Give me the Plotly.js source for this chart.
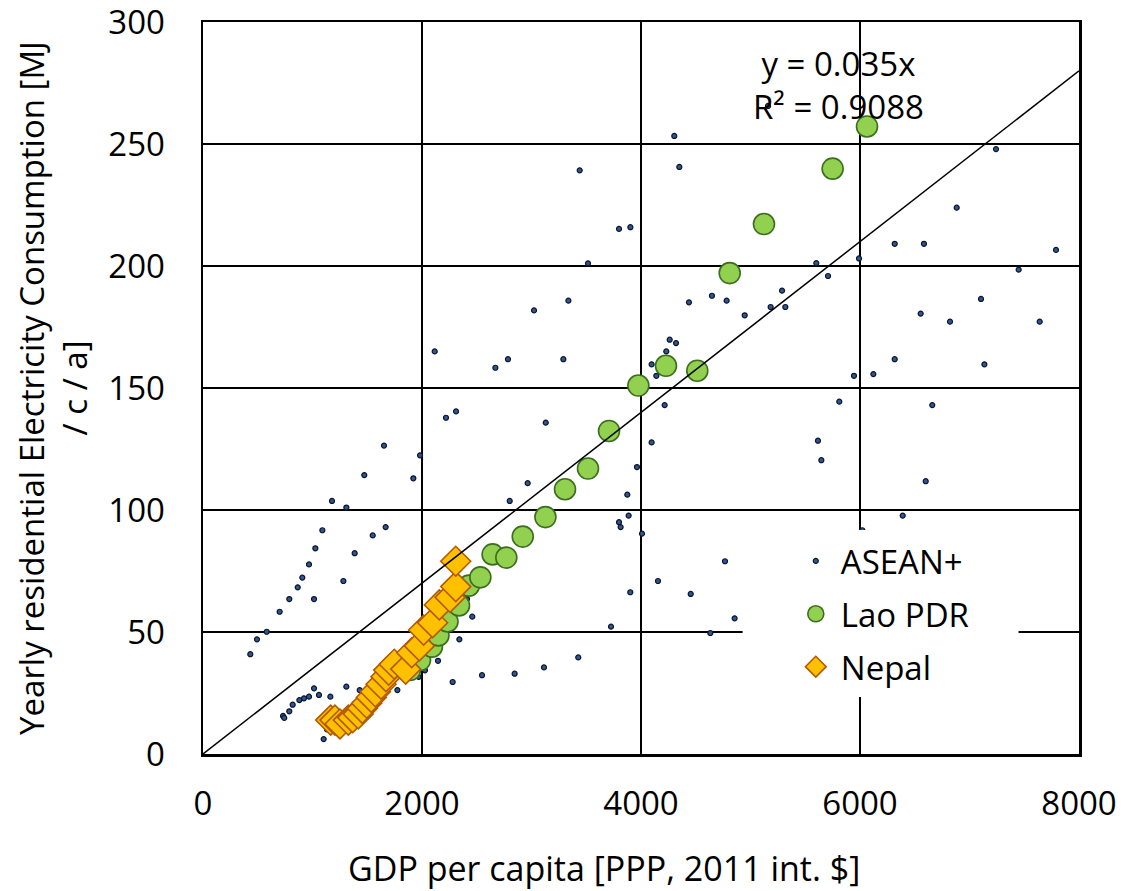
<!DOCTYPE html>
<html>
<head>
<meta charset="utf-8">
<script src="https://cdn.plot.ly/plotly-3.0.1.min.js"></script>
<style>html,body{margin:0;padding:0;background:#fff}#chart{width:1130px;height:891px}</style>
</head>
<body>
<div id="chart"></div>
<script>
// ASEAN+ country-year points [GDP per capita, MJ/c/a]
const aseanX = [2219,2311,1653,1982,1473,1921,1178,1309,1090,1668,1550,1026,1385,968,907,1282,865,788,1014,700,582,493,432,1014,1309,1431,1059,1163,968,922,880,819,788,731,742,1132,1102,1775,1970,2027,2146,2280,2548,2341,2459,2411,
  3130,2965,2801,4216,4097,3963,3875,3887,3799,3814,4009,4155,3902,4454,3726,3427,3114,2846,
  5811,6660,5616,5647,6600,6390,6021,4767,4855,4633,
  4304,4350,3440,3799,3903,3516,3023,3337,2785,3291,4438,4648,4782,4947,5184,5318,5288,4262,4320,4231,4097,4140,
  5601,5708,5991,6317,6584,6883,7242,7790,7449,7105,6554,6822,7641,6317,7136,6122,5945,
  2116,2670,5160];
const aseanY = [137.8,140.4,126.4,122.4,114.3,113,103.7,101,91.7,93,89.6,84.3,82.3,77.7,72.3,70.9,68.3,63.5,63.5,58.3,50.1,47,40.9,26.9,27.6,26.2,24.2,23.5,23.5,22.8,22.1,20.2,17.5,15.6,14.8,10.1,6.1,26.2,31.6,34.3,38.2,29.5,32.3,47,56.3,63.5,
  135.8,111,103.7,143,127.7,117.6,106.3,97.7,95,93,90.3,70.9,66.3,65.6,52.2,39.6,35.5,32.9,
  144.4,143,128.4,120.4,111.8,97.7,91.7,79,55.6,49.6,
  253.3,240.6,239.2,215.2,215.9,201.1,181.8,185.8,161.8,161.8,185.1,187.8,185.8,179.8,183.2,183.2,189.9,169.8,168.4,165,159.7,155,
  201.2,195.9,203.1,209.1,209.1,223.9,247.9,206.6,198.5,186.5,180.5,177.2,177.2,161.8,159.7,155.7,155,
  165,158.3,265.6];

// Lao PDR
const laoX = [1890,1982,2091,2150,2233,2338,2428,2533,2645,2770,2920,3127,3306,3516,3708,3976,4228,4514,4810,5123,5750,6064];
const laoY = [34.4,38.5,44,48.6,54.3,60.9,69,72.4,81.8,80.5,89.1,97.1,108.5,117,132.4,151,159.1,157.1,197.1,217.2,239.9,257.2];

// Nepal
const nepalX = [1166,1205,1251,1327,1367,1418,1455,1495,1537,1574,1626,1671,1696,1747,1851,1906,1976,2015,2097,2158,2256,2308,2308];
const nepalY = [13.9,13.9,12.3,13.9,14.9,16.4,18.7,20.8,23.2,25.5,28.6,31.7,34.4,36.8,34.8,41.5,44.3,50.8,53.8,61.1,64.2,68.6,79];

// Linear trendline through origin
const trendSlope = 0.035;
const trendR2 = 0.9088;
const xRange = [0, 8000];
const yRange = [0, 300];
const xTicks = [0, 2000, 4000, 6000, 8000];
const yTicks = [0, 50, 100, 150, 200, 250, 300];
const xTitle = 'GDP per capita [PPP, 2011 int. $]';
const yTitle = 'Yearly residential Electricity Consumption [MJ<br>/ c / a]';

const FONT = '"Open Sans", "Liberation Sans", sans-serif';
const FS = 33;

const traces = [
  {x: aseanX, y: aseanY, type: 'scatter', mode: 'markers', name: 'ASEAN+', legendgroup: 'a',
   marker: {symbol: 'circle', size: 5, color: '#2f5597', line: {color: '#0b1626', width: 1.2}}},
  {x: laoX, y: laoY, type: 'scatter', mode: 'markers', name: 'Lao PDR', legendgroup: 'b',
   marker: {symbol: 'circle', size: 21, color: '#92d050', line: {color: '#3c6e1e', width: 1.6}}},
  {x: nepalX, y: nepalY, type: 'scatter', mode: 'markers', name: 'Nepal', legendgroup: 'c',
   marker: {symbol: 'diamond', size: 23, color: '#ffc000', line: {color: '#b35a00', width: 1.6}}},
  {x: xRange, y: xRange.map(v => trendSlope * v), type: 'scatter', mode: 'lines',
   showlegend: false, hoverinfo: 'skip', line: {color: '#000', width: 1.5}}
];

const layout = {
  width: 1130, height: 891,
  margin: {l: 203, r: 51, t: 22, b: 137},
  paper_bgcolor: '#fff', plot_bgcolor: '#fff',
  font: {family: FONT, size: FS, color: '#000'},
  showlegend: true,
  xaxis: {
    range: xRange, tickmode: 'array', tickvals: xTicks,
    showgrid: true, gridcolor: '#000', gridwidth: 1.5,
    zeroline: false, showline: true, linecolor: '#000', linewidth: 2.5, mirror: true,
    ticks: '', ticklabelstandoff: 19, ticklabeloverflow: 'allow',
    tickfont: {family: FONT, size: FS, color: '#000'}
  },
  yaxis: {
    range: yRange, tickmode: 'array', tickvals: yTicks,
    showgrid: true, gridcolor: '#000', gridwidth: 1.5,
    zeroline: false, showline: true, linecolor: '#000', linewidth: 2.5, mirror: true,
    ticks: '', ticklabelstandoff: 29, ticklabeloverflow: 'allow',
    tickfont: {family: FONT, size: FS, color: '#000'},
    title: {text: yTitle, font: {family: FONT, size: FS, color: '#000'}, standoff: 11}
  },
  legend: {
    x: 0.671, xanchor: 'left', y: 0.302, yanchor: 'top',
    bgcolor: 'rgba(0,0,0,0)', borderwidth: 0,
    font: {family: FONT, size: FS, color: '#000'},
    itemwidth: 40, tracegroupgap: 7,
    traceorder: 'grouped'
  },
  shapes: [{
    type: 'rect', xref: 'paper', yref: 'paper', layer: 'above',
    x0: 0.616, x1: 0.931, y0: 0.078, y1: 0.306,
    fillcolor: '#fff', line: {width: 0}
  }],
  annotations: [{
    x: 5800, y: 274, xref: 'x', yref: 'y', xanchor: 'center', yanchor: 'middle',
    text: 'y = ' + trendSlope + 'x<br>R² = ' + trendR2, showarrow: false,
    font: {family: FONT, size: FS, color: '#000'}
  }, {
    x: 0.458, y: -0.156, xref: 'paper', yref: 'paper', xanchor: 'center', yanchor: 'middle',
    text: xTitle, showarrow: false,
    font: {family: FONT, size: 34, color: '#000'}
  }]
};

Plotly.newPlot('chart', traces, layout, {displayModeBar: false, staticPlot: true});
</script>
</body>
</html>
